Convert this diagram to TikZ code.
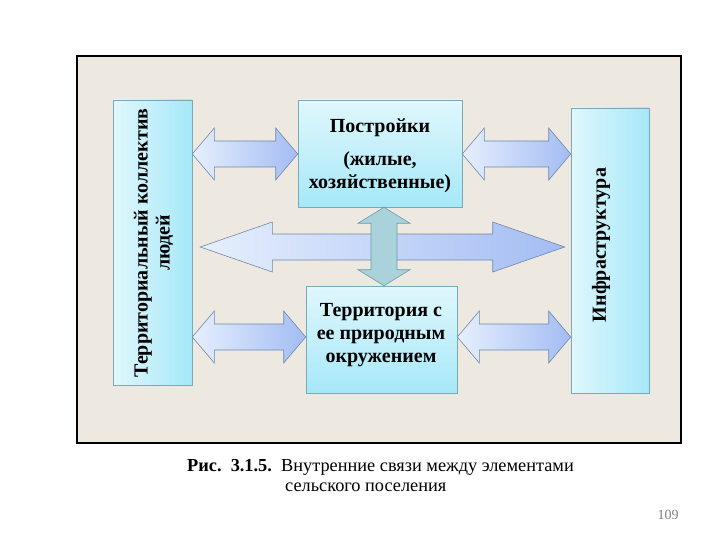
\documentclass[tikz,border=0pt]{standalone}
\usepackage{fontspec}
\setmainfont{Liberation Serif}
\usetikzlibrary{calc}

\definecolor{framefill}{HTML}{EDE9E0}
\definecolor{boxlight}{HTML}{E0F7FD}
\definecolor{boxdark}{HTML}{A6E8F8}
\definecolor{boxline}{HTML}{78AAB8}
\definecolor{arrowlight}{HTML}{E6EFFD}
\definecolor{arrowdark}{HTML}{A3BCF3}
\definecolor{arrowline}{HTML}{7088AA}
\definecolor{crossfill}{HTML}{A9D2DB}
\definecolor{crossline}{HTML}{6E9AA6}

\tikzset{
  sidebox/.style={draw=boxline, line width=0.6pt, left color=boxlight, right color=boxdark, inner sep=0pt},
  midbox/.style={draw=boxline, line width=0.6pt, top color=boxlight, bottom color=boxdark, inner sep=0pt},
  linkarrow/.style={draw=arrowline, line width=0.6pt, left color=arrowlight, right color=arrowdark},
  crossarrow/.style={draw=crossline, line width=0.6pt, fill=crossfill},
  boxtext/.style={font=\fontsize{20}{23}\selectfont\bfseries, align=center, inner sep=0pt},
  captext/.style={font=\rmfamily\fontsize{18.3}{21}\selectfont, inner sep=0pt}
}

\newcommand{\linkarrow}[3]{%
  \draw[linkarrow] let \p1=(#1.east), \p2=(#2.west) in
    (\x1,#3) -- (\x1+22pt,#3-26) -- (\x1+22pt,#3-13) -- (\x2-22pt,#3-13)
    -- (\x2-22pt,#3-26) -- (\x2,#3) -- (\x2-22pt,#3+26) -- (\x2-22pt,#3+13)
    -- (\x1+22pt,#3+13) -- (\x1+22pt,#3+26) -- cycle;}

\begin{document}
\begin{tikzpicture}[x=1pt,y=-1pt]
\useasboundingbox (0,0) rectangle (720,540);
\draw[line width=2.5pt, fill=framefill] (77,56) rectangle (681,443);

\node[sidebox, minimum width=79pt, minimum height=285pt] (coll) at (152.5,242.5) {};
\node[sidebox, minimum width=78pt, minimum height=285pt] (infra) at (610,250.5) {};
\node[midbox, minimum width=164pt, minimum height=107pt] (post) at (380,153.5) {};
\node[midbox, minimum width=151pt, minimum height=107pt] (terr) at (381.5,339.5) {};

\linkarrow{coll}{post}{154}
\linkarrow{post}{infra}{154}
\linkarrow{coll}{terr}{337}
\linkarrow{terr}{infra}{337}

\draw[linkarrow] let \p1=(coll.east), \p2=(infra.west) in
  (\x1+8pt,247) -- (\x1+80pt,222) -- (\x1+80pt,234) -- (\x2-78pt,234)
  -- (\x2-78pt,222) -- (\x2-6pt,247) -- (\x2-78pt,272) -- (\x2-78pt,260)
  -- (\x1+80pt,260) -- (\x1+80pt,272) -- cycle;
\draw[crossarrow] let \p1=(post.south), \p2=(terr.north) in
  (384,\y1) -- (410,\y1-16pt) -- (397,\y1-16pt) -- (397,\y2+16pt)
  -- (410,\y2+16pt) -- (384,\y2) -- (358,\y2+16pt) -- (371,\y2+16pt)
  -- (371,\y1-16pt) -- (358,\y1-16pt) -- cycle;

\node[boxtext, rotate=90, font=\fontsize{20}{22}\selectfont\bfseries] (collText) at (153.5,243) {Территориальный коллектив\\людей};
\node[boxtext, rotate=90] (infraText) at (601,245) {Инфраструктура};
\node[boxtext] (postText) at (380,156) {Постройки\\[10pt](жилые,\\хозяйственные)};
\node[boxtext] (terrText) at (381,335) {Территория с\\ее природным\\окружением};

\node[captext, anchor=base west] (capNum) at (187,471) {\bfseries Рис.~~3.1.5.};
\node[captext, anchor=base west] (capLine) at (281,471) {Внутренние связи между элементами};
\node[captext, anchor=base west] (capLineB) at (285,491) {сельского поселения};
\node[font=\rmfamily\fontsize{14}{16}\selectfont, text=gray] (pageNo) at (668,515) {109};
\end{tikzpicture}
\end{document}
